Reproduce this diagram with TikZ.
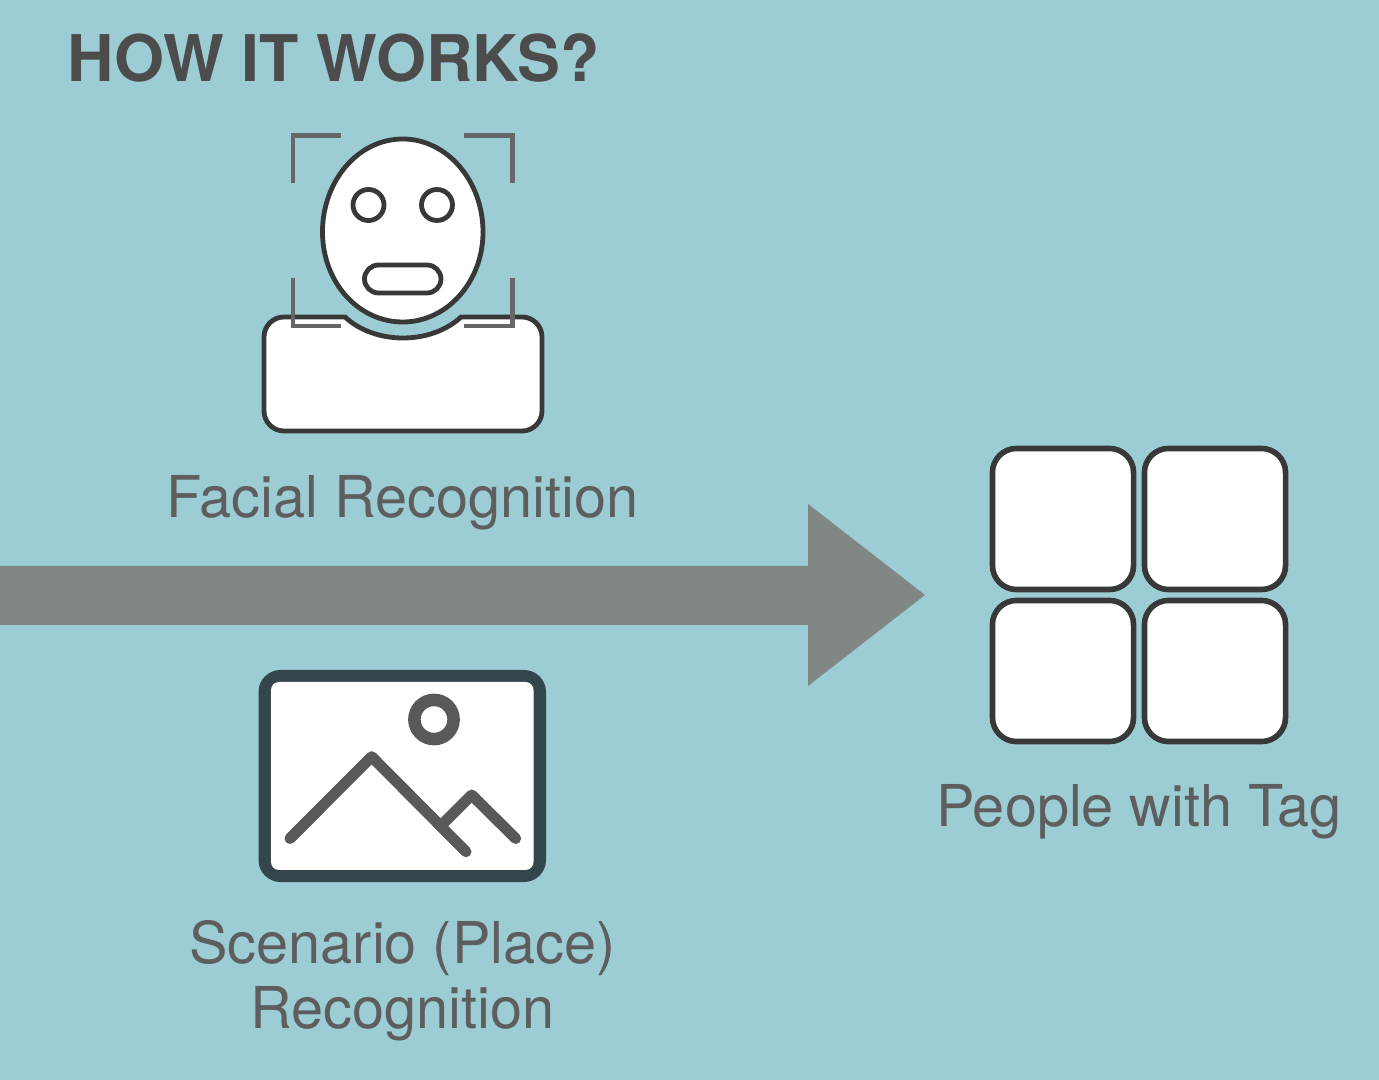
\documentclass[tikz,border=0pt]{standalone}
\usepackage{fontspec}
\setmainfont{TeX Gyre Heros}
\usepackage{xcolor}
\definecolor{bgblue}{HTML}{9CCDD5}
\definecolor{arrowgrey}{HTML}{808784}
\definecolor{inkdark}{HTML}{383838}
\definecolor{markgrey}{HTML}{666669}
\definecolor{framedark}{HTML}{33464C}
\definecolor{picgrey}{HTML}{595959}
\definecolor{labelgrey}{HTML}{5E5E5E}

\begin{document}
\begin{tikzpicture}[
    x=0.01cm, y=-0.01cm,
    outline/.style={draw=inkdark, fill=white, line width=0.048cm},
    cornermark/.style={draw=markgrey, line width=0.045cm},
    ridge/.style={draw=picgrey, line width=0.11cm, line cap=round, line join=round},
    tagbox/.style={
        rectangle, draw=inkdark, fill=white, line width=0.056cm,
        minimum size=1.41cm, rounded corners=0.24cm, inner sep=0pt
    },
    caption/.style={font=\fontsize{16.4}{18.5}\selectfont, text=labelgrey, align=center, inner sep=0pt},
    heading/.style={font=\fontsize{18.3}{20}\selectfont\bfseries, text=black!70, anchor=base west, inner sep=0pt}
]

\useasboundingbox (0,0) rectangle (1379,1080);
\fill[bgblue] (0,0) rectangle (1379,1080);

\node[heading] (title) at (67,81.5) {HOW IT WORKS?};

% === FACE ===

\draw[outline] (345,317) .. controls (375,345) and (431,345) .. (461,317)
    [rounded corners=0.2cm] -- (542,317) -- (542,431) -- (264,431) -- (264,317) [sharp corners] -- cycle;
\draw[outline] (322.5,232) .. controls (322.5,181) and (358,139) .. (402.75,139)
    .. controls (447,139) and (483,181) .. (483,232)
    .. controls (483,282) and (447,322) .. (402.75,322)
    .. controls (358,322) and (322.5,282) .. (322.5,232) -- cycle;
\draw[outline] (368.5,205) circle [radius=15.5];
\draw[outline] (437,205) circle [radius=15.5];
\draw[outline, rounded corners=0.14cm] (364.5,265) rectangle (441,293);

\draw[cornermark] (293,182.7) -- (293,135.5) -- (340.7,135.5);
\draw[cornermark] (464.3,135.5) -- (512.5,135.5) -- (512.5,182.7);
\draw[cornermark] (293,278) -- (293,326) -- (340.7,326);
\draw[cornermark] (464.3,326) -- (512.5,326) -- (512.5,278);

\node[caption] (facial) at (402.5,503) {Facial Recognition};

% === ARROW ===

\fill[arrowgrey] (0,566) -- (808,566) -- (808,504) -- (925,595) -- (808,686) -- (808,625) -- (0,625) -- cycle;

% === PLACE ===

\draw[draw=framedark, fill=picgrey, line width=0.12cm, rounded corners=0.16cm] (264.5,676) rectangle (540,876);
\fill[white, rounded corners=0.08cm] (271,682) rectangle (533.5,870);
\draw[draw=picgrey, line width=0.125cm] (434,719.5) circle [radius=19.6];
\draw[ridge] (290,838.5) -- (371.7,756.7) -- (466,851.7);
\draw[ridge] (443.3,823.3) -- (471.7,795) -- (515.7,838.5);

\node[caption] (place) at (402.5,981) {Scenario (Place)\\Recognition};

% === TAGS ===

\node[tagbox] (tagnw) at (1063,519) {};
\node[tagbox] (tagne) at (1215,519) {};
\node[tagbox] (tagsw) at (1063,671) {};
\node[tagbox] (tagse) at (1215,671) {};

\node[caption] (people) at (1139,812) {People with Tag};

\end{tikzpicture}
\end{document}
